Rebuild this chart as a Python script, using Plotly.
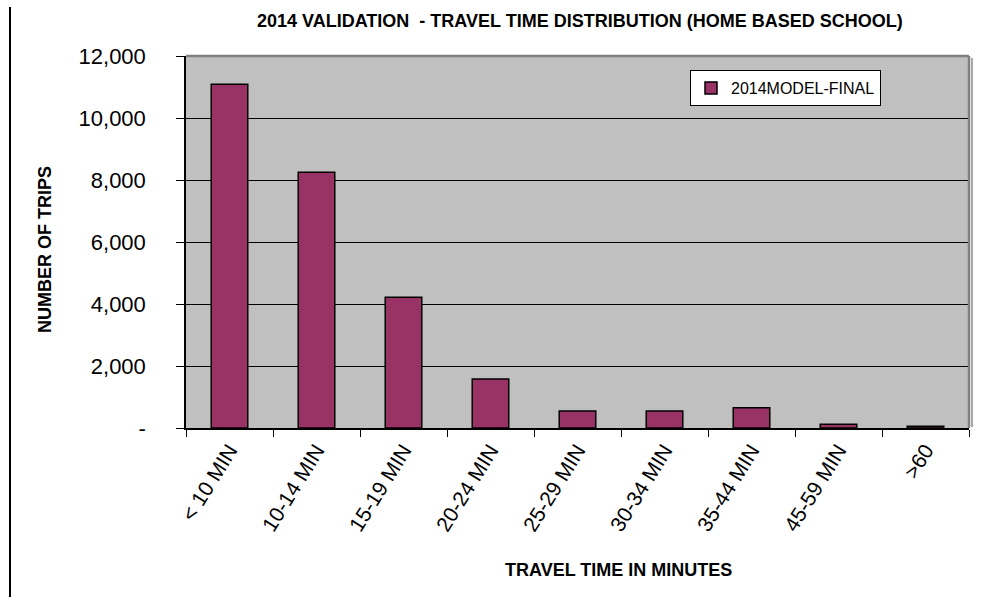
import plotly.graph_objects as go

categories = ["< 10 MIN", "10-14 MIN", "15-19 MIN", "20-24 MIN", "25-29 MIN",
              "30-34 MIN", "35-44 MIN", "45-59 MIN", ">60"]
trips = [11090, 8250, 4220, 1580, 550, 545, 650, 125, 60]
series_name = "2014MODEL-FINAL"
y_tick_vals = [0, 2000, 4000, 6000, 8000, 10000, 12000]
y_tick_text = ["-", "2,000", "4,000", "6,000", "8,000", "10,000", "12,000"]

W, H = 994, 597
L, R, T, B = 186, 25, 56, 169
pw, ph = W - L - R, H - T - B

def px_x(x):
    return (x - L) / pw

def px_y(y):
    return (H - B - y) / ph

FONT = "Liberation Sans, Arial, sans-serif"

fig = go.Figure()
fig.add_trace(go.Bar(
    x=categories, y=trips, name=series_name,
    marker=dict(color="#993366", line=dict(color="black", width=1.5)),
    width=0.42,
))

fig.update_layout(
    width=W, height=H,
    margin=dict(l=L, r=R, t=T, b=B),
    paper_bgcolor="white", plot_bgcolor="#C0C0C0",
    font=dict(family=FONT, color="black"),
    showlegend=True,
    legend=dict(
        x=px_x(690), y=px_y(70), xanchor="left", yanchor="top",
        bgcolor="white", bordercolor="black", borderwidth=1,
        font=dict(size=16, family=FONT), itemwidth=30,
    ),
    bargap=0.58,
)

fig.update_xaxes(
    type="category", showline=True, linecolor="black", linewidth=1.5,
    ticks="outside", tickson="boundaries", ticklen=7, tickcolor="black",
    tickangle=-58, tickfont=dict(size=21), showgrid=False,
)
fig.update_yaxes(
    range=[0, 12000], tickvals=y_tick_vals, ticktext=y_tick_text,
    showline=True, linecolor="black", linewidth=1.5,
    ticks="outside", ticklen=8, tickcolor="black",
    tickfont=dict(size=22), ticklabelstandoff=26,
    showgrid=True, gridcolor="black", gridwidth=1, zeroline=False,
)

# plot-area frame with drop shadow on top and right edges
fig.add_shape(type="line", xref="paper", yref="paper",
              x0=0, x1=1, y0=1, y1=1, line=dict(color="#808080", width=2.5))
fig.add_shape(type="line", xref="paper", yref="paper",
              x0=1, x1=1, y0=0, y1=1, line=dict(color="#808080", width=2.5))
fig.add_shape(type="line", xref="paper", yref="paper",
              x0=px_x(972), x1=px_x(972), y0=px_y(427), y1=px_y(58),
              line=dict(color="#A8A8A8", width=2))

# left frame rule
fig.add_shape(type="line", xref="paper", yref="paper",
              x0=px_x(10), x1=px_x(10), y0=px_y(597), y1=px_y(7),
              line=dict(color="black", width=2))

text_pos = dict(xref="paper", yref="paper", xanchor="center",
                yanchor="middle", showarrow=False)
fig.add_annotation(
    text="<b>2014 VALIDATION  - TRAVEL TIME DISTRIBUTION (HOME BASED SCHOOL)</b>",
    x=px_x(580), y=px_y(21), font=dict(size=18, family=FONT), **text_pos,
)
fig.add_annotation(
    text="<b>NUMBER OF TRIPS</b>", textangle=-90,
    x=px_x(45), y=px_y(250), font=dict(size=18, family=FONT), **text_pos,
)
fig.add_annotation(
    text="<b>TRAVEL TIME IN MINUTES</b>",
    x=px_x(618), y=px_y(570), font=dict(size=18, family=FONT), **text_pos,
)

fig.write_html("out.html")
